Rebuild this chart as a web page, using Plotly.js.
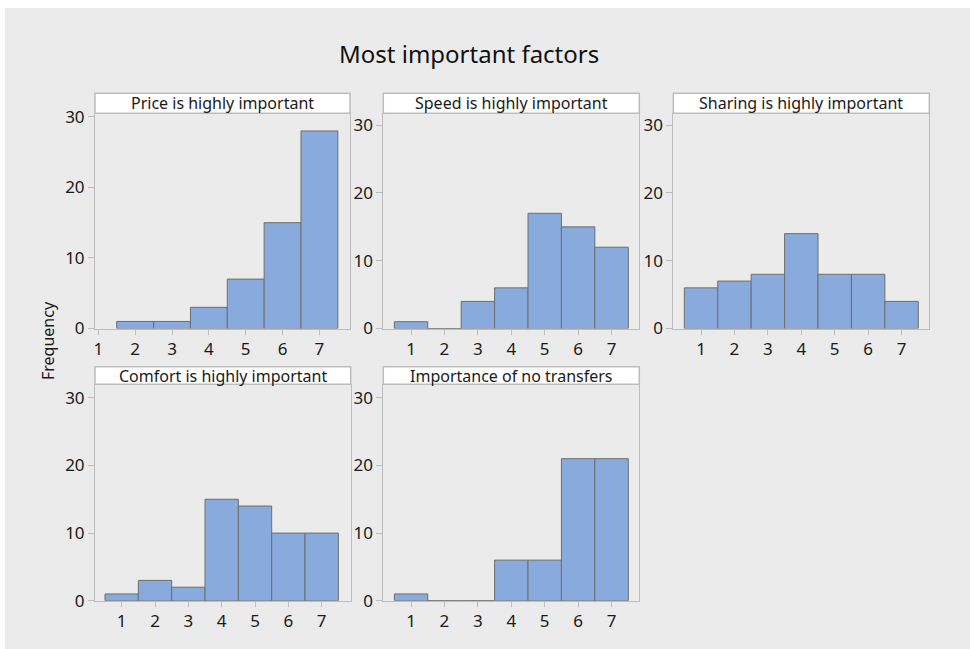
<!DOCTYPE html>
<html>
<head>
<meta charset="utf-8">
<script src="https://cdn.plot.ly/plotly-3.0.1.min.js"></script>
<style>
  html, body { margin: 0; padding: 0; background: #ffffff; }
  #chart { width: 970px; height: 649px; }
</style>
</head>
<body>
<div id="chart"></div>
<script>
// Importance ratings (1-7) and response counts per factor
const priceRatings = [2, 3, 4, 5, 6, 7];
const priceCounts = [1, 1, 3, 7, 15, 28];

const speedRatings = [1, 2, 3, 4, 5, 6, 7];
const speedCounts = [1, 0, 4, 6, 17, 15, 12];

const sharingRatings = [1, 2, 3, 4, 5, 6, 7];
const sharingCounts = [6, 7, 8, 14, 8, 8, 4];

const comfortRatings = [1, 2, 3, 4, 5, 6, 7];
const comfortCounts = [1, 3, 2, 15, 14, 10, 10];

const transfersRatings = [1, 2, 3, 4, 5, 6, 7];
const transfersCounts = [1, 0, 0, 6, 6, 21, 21];

const panelTitles = [
  'Price is highly important',
  'Speed is highly important',
  'Sharing is highly important',
  'Comfort is highly important',
  'Importance of no transfers'
];
const xTickValues = [1, 2, 3, 4, 5, 6, 7];
const yTickValues = [0, 10, 20, 30];

const W = 970, H = 649;
const FONT = 'Noto Sans, Open Sans, sans-serif';
const BAR_FILL = '#88aadc';
const BAR_EDGE = '#6e6e6e';
const FRAME = '#bdbdbd';
const TEXT = '#1a1a1a';

// Panel geometry in pixels: [left, right, top, bottom] of the plotting area,
// strip top, x range, y range
const panels = [
  { x: priceRatings, y: priceCounts, box: [95, 350, 113.3, 328.5], strip: 93.3, xr: [0.91, 7.83], yr: [0, 30.5] },
  { x: speedRatings, y: speedCounts, box: [383.3, 639.3, 113.3, 328.5], strip: 93.3, xr: [0.17, 7.83], yr: [0, 31.76] },
  { x: sharingRatings, y: sharingCounts, box: [673.3, 929.3, 113.3, 328.5], strip: 93.3, xr: [0.17, 7.83], yr: [0, 31.76] },
  { x: comfortRatings, y: comfortCounts, box: [95, 350.7, 384.3, 600.7], strip: 366.7, xr: [0.2, 7.87], yr: [0, 32] },
  { x: transfersRatings, y: transfersCounts, box: [383.3, 639.3, 384.3, 600.7], strip: 366.7, xr: [0.17, 7.83], yr: [0, 32] }
];

const px = v => v / W;
const py = v => 1 - v / H;

const traces = [];
const layout = {
  width: W,
  height: H,
  margin: { l: 0, r: 0, t: 0, b: 0 },
  paper_bgcolor: '#ffffff',
  plot_bgcolor: '#ffffff',
  showlegend: false,
  bargap: 0,
  font: { family: FONT, color: TEXT },
  shapes: [
    // grey backdrop of the graph window
    { type: 'rect', xref: 'paper', yref: 'paper', x0: px(5), x1: 1, y0: 0, y1: py(8),
      fillcolor: '#ebebeb', line: { width: 0 }, layer: 'below' }
  ],
  annotations: [
    { text: 'Most important factors', xref: 'paper', yref: 'paper',
      x: px(469), y: py(54), xanchor: 'center', yanchor: 'middle', showarrow: false,
      font: { family: FONT, size: 24, color: '#111111' } },
    { text: 'Frequency', xref: 'paper', yref: 'paper',
      x: px(48), y: py(341), xanchor: 'center', yanchor: 'middle', showarrow: false,
      textangle: -90, font: { family: FONT, size: 16, color: TEXT } }
  ]
};

panels.forEach((p, i) => {
  const n = i + 1;
  const xa = 'xaxis' + (n === 1 ? '' : n);
  const ya = 'yaxis' + (n === 1 ? '' : n);
  const xr = 'x' + (n === 1 ? '' : n);
  const yr = 'y' + (n === 1 ? '' : n);
  const [l, r, t, b] = p.box;

  traces.push({
    type: 'bar',
    x: p.x,
    y: p.y,
    width: 1,
    xaxis: xr,
    yaxis: yr,
    marker: { color: BAR_FILL, line: { color: BAR_EDGE, width: 1 } },
    hoverinfo: 'x+y'
  });

  layout[xa] = {
    domain: [px(l), px(r)],
    anchor: yr,
    range: p.xr,
    tickmode: 'array',
    tickvals: xTickValues,
    ticks: 'outside',
    ticklen: 5,
    tickcolor: FRAME,
    showline: true,
    linecolor: FRAME,
    linewidth: 1,
    mirror: false,
    showgrid: false,
    zeroline: false,
    tickfont: { family: FONT, size: 17, color: TEXT }
  };
  layout[ya] = {
    domain: [py(b), py(t)],
    anchor: xr,
    range: p.yr,
    tickmode: 'array',
    tickvals: yTickValues,
    ticks: 'outside',
    ticklen: 6,
    tickcolor: FRAME,
    showline: true,
    linecolor: FRAME,
    linewidth: 1,
    mirror: true,
    showgrid: false,
    zeroline: false,
    tickfont: { family: FONT, size: 17, color: TEXT }
  };

  // title strip above each panel
  layout.shapes.push({
    type: 'rect', xref: 'paper', yref: 'paper',
    x0: px(l), x1: px(r), y0: py(t), y1: py(p.strip),
    fillcolor: '#ffffff', line: { color: FRAME, width: 1.5 }
  });
  layout.annotations.push({
    text: panelTitles[i], xref: 'paper', yref: 'paper',
    x: px((l + r) / 2), y: py((t + p.strip) / 2),
    xanchor: 'center', yanchor: 'middle', showarrow: false,
    font: { family: FONT, size: 16, color: TEXT }
  });
});

Plotly.newPlot('chart', traces, layout, { staticPlot: true, displayModeBar: false });
</script>
</body>
</html>
